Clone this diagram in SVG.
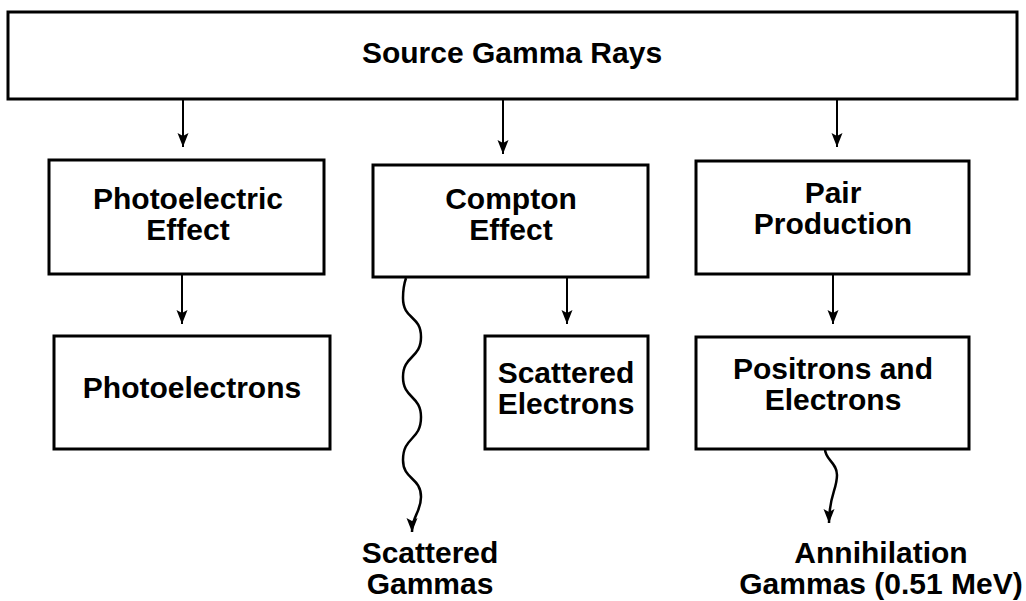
<svg xmlns="http://www.w3.org/2000/svg" width="1026" height="601" viewBox="0 0 1026 601">
  <style>
    .box { fill: #ffffff; stroke: #000000; stroke-width: 3; }
    .lbl { font-family: "Liberation Sans", Arial, Helvetica, sans-serif; font-weight: bold; font-size: 30px; fill: #000000; text-anchor: middle; }
    .edge { fill: none; stroke: #000000; stroke-width: 2; }
    .wave { fill: none; stroke: #000000; stroke-width: 2.5; }
  </style>
  <defs>
    <marker id="arrow" markerUnits="userSpaceOnUse" markerWidth="14" markerHeight="12" viewBox="0 0 14 12" refX="14" refY="6" orient="auto">
      <path d="M0,0.5 L14,6 L0,11.5 L3,6 Z" fill="#000000"/>
    </marker>
  </defs>

  <rect width="1026" height="601" fill="#ffffff"/>

  <g id="source">
    <rect class="box" x="8" y="12" width="1009" height="87"/>
    <text class="lbl" x="512" y="63">Source Gamma Rays</text>
  </g>

  <g id="photoelectric">
    <rect class="box" x="49" y="160" width="275" height="114"/>
    <text class="lbl" x="188" y="209">Photoelectric</text>
    <text class="lbl" x="188" y="240">Effect</text>
  </g>

  <g id="compton">
    <rect class="box" x="373" y="165" width="275" height="112"/>
    <text class="lbl" x="511" y="209">Compton</text>
    <text class="lbl" x="511" y="240">Effect</text>
  </g>

  <g id="pair">
    <rect class="box" x="696" y="161" width="273" height="113"/>
    <text class="lbl" x="833" y="203">Pair</text>
    <text class="lbl" x="833" y="234">Production</text>
  </g>

  <g id="photoelectrons">
    <rect class="box" x="54" y="336" width="276" height="113"/>
    <text class="lbl" x="192" y="398">Photoelectrons</text>
  </g>

  <g id="scattered-electrons">
    <rect class="box" x="485" y="336" width="163" height="113"/>
    <text class="lbl" x="566" y="383">Scattered</text>
    <text class="lbl" x="566" y="414">Electrons</text>
  </g>

  <g id="positrons">
    <rect class="box" x="696" y="337" width="273" height="112"/>
    <text class="lbl" x="833" y="379">Positrons and</text>
    <text class="lbl" x="833" y="410">Electrons</text>
  </g>

  <g id="scattered-gammas">
    <text class="lbl" x="430" y="563">Scattered</text>
    <text class="lbl" x="430" y="594">Gammas</text>
  </g>

  <g id="annihilation">
    <text class="lbl" x="881" y="563">Annihilation</text>
    <text class="lbl" x="881" y="594">Gammas (0.51 MeV)</text>
  </g>

  <g id="connectors">
    <line class="edge" x1="183" y1="100" x2="183" y2="147" marker-end="url(#arrow)"/>
    <line class="edge" x1="503" y1="100" x2="503" y2="154" marker-end="url(#arrow)"/>
    <line class="edge" x1="837" y1="100" x2="837" y2="147" marker-end="url(#arrow)"/>
    <line class="edge" x1="182" y1="275" x2="182" y2="324" marker-end="url(#arrow)"/>
    <line class="edge" x1="567" y1="278" x2="567" y2="324" marker-end="url(#arrow)"/>
    <line class="edge" x1="833" y1="275" x2="833" y2="324" marker-end="url(#arrow)"/>
    <!-- wavy photon paths -->
    <path class="wave" d="M406,278 C404,284 403,291 403,298 C403,320 421,315 421,337 C421,359 403,355 403,377 C403,399 421,395 421,417 C421,441 403,436 403,460 C403,480 421,477 421,497 C421,512 412,516 412,532" marker-end="url(#arrow)"/>
    <path class="wave" d="M825,449 C825,460 837,462 837,475 C837,490 829,495 829,523" marker-end="url(#arrow)"/>
  </g>
</svg>
